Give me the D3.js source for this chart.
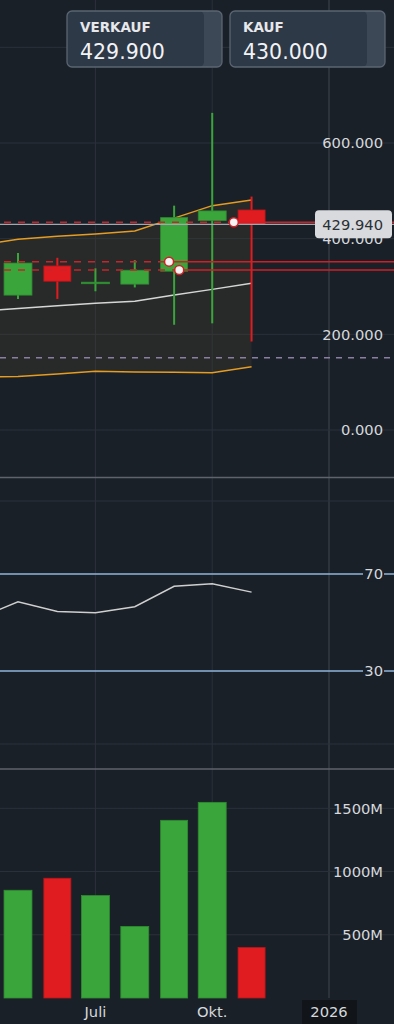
<!DOCTYPE html>
<html>
<head>
<meta charset="utf-8">
<script src="https://cdn.jsdelivr.net/npm/d3@7"></script>
<style>
html, body { margin: 0; padding: 0; background: #1a2028; overflow: hidden; }
svg { display: block; font-family: "DejaVu Sans", sans-serif; }
</style>
</head>
<body>
<div id="chart"></div>
<script>
var width = 394;
var height = 1024;

// monthly candles
var candleDates = ['2025-05-01', '2025-06-01', '2025-07-01', '2025-08-01', '2025-09-01', '2025-10-01', '2025-11-01'];
var opens = [282, 343, 307, 305, 332, 438, 460];
var highs = [370, 360, 338, 355, 469, 663, 488];
var lows = [274, 274, 290, 298, 220, 223, 185];
var closes = [349, 311, 309, 334, 444, 458, 429.94];
var volumes = [852, 947, 810, 566, 1405, 1547, 400];

// indicators (one point more on the left, off screen)
var lineDates = ['2025-04-01', '2025-05-01', '2025-06-01', '2025-07-01', '2025-08-01', '2025-09-01', '2025-10-01', '2025-11-01'];
var bbUpper = [386, 399, 405, 410, 416, 443, 469, 481];
var bbMiddle = [249, 254, 259.7, 265, 269, 282, 294, 306.7];
var bbLower = [111, 112, 117, 122.7, 121, 120.5, 119.8, 132];
var rsi = [52, 58.5, 54.5, 54, 56.5, 64.9, 65.9, 62.5];

// position lines
var orderPrices = [434.5, 352, 334.5];
var orderDates = ['2025-10-18', '2025-08-28', '2025-09-05'];
var alertPrice = 151;
var lastPrice = 429.94;

var quoteLabels = ['VERKAUF', 'KAUF'];
var quoteValues = ['429.900', '430.000'];

var priceTicks = [0, 200, 400, 600, 800];
var rsiGrid = [0, 100];
var rsiLevels = [70, 30];
var volumeTicks = [500, 1000, 1500];
var timeTicks = ['2025-07-01', '2025-10-01', '2026-01-01'];
var timeLabels = ['Juli', 'Okt.', '2026'];

var parse = d3.timeParse('%Y-%m-%d');
var x = d3.scaleTime().domain([parse('2025-05-01'), parse('2026-01-01')]).range([18, 329]);
var yPrice = d3.scaleLinear().domain([0, 600]).range([430, 143]);
var yRsi = d3.scaleLinear().domain([0, 100]).range([744, 501]);
var yVol = d3.scaleLinear().domain([0, 1500]).range([998, 808.3]);
var fmtPrice = d3.format('.3f');

var green = '#3aa53b';
var greenEdge = '#2e8c30';
var red = '#e01c20';
var redEdge = '#b3171b';
var gridColor = '#2b313a';

var candles = candleDates.map(function(d, i) {
    return {
        date: parse(d),
        open: opens[i],
        high: highs[i],
        low: lows[i],
        close: closes[i],
        volume: volumes[i]
    };
});

var lines = lineDates.map(function(d, i) {
    return { date: parse(d), upper: bbUpper[i], middle: bbMiddle[i], lower: bbLower[i], rsi: rsi[i] };
});

function bodyWidth(d) {
    var next = d3.timeMonth.offset(d.date, 1);
    return (x(next) - x(d.date)) * 0.71;
}

var svg = d3.select('#chart').append('svg')
    .attr('width', width)
    .attr('height', height);

svg.append('rect')
    .attr('width', width)
    .attr('height', height)
    .attr('fill', '#1a2028');

// grid
svg.append('g')
    .selectAll('line')
    .data(timeTicks)
    .join('line')
    .attr('x1', function(d) { return x(parse(d)); })
    .attr('x2', function(d) { return x(parse(d)); })
    .attr('y1', 0)
    .attr('y2', 998)
    .attr('stroke', function(d, i) { return i === timeTicks.length - 1 ? '#40464f' : gridColor; })
    .attr('stroke-width', 1);

var hGrid = svg.append('g');
hGrid.selectAll('line.p')
    .data(priceTicks)
    .join('line')
    .classed('p', true)
    .attr('x1', 0).attr('x2', width)
    .attr('y1', function(d) { return yPrice(d); })
    .attr('y2', function(d) { return yPrice(d); })
    .attr('stroke', gridColor);
hGrid.selectAll('line.r')
    .data(rsiGrid)
    .join('line')
    .classed('r', true)
    .attr('x1', 0).attr('x2', width)
    .attr('y1', function(d) { return yRsi(d); })
    .attr('y2', function(d) { return yRsi(d); })
    .attr('stroke', gridColor);
hGrid.selectAll('line.v')
    .data(volumeTicks)
    .join('line')
    .classed('v', true)
    .attr('x1', 0).attr('x2', width)
    .attr('y1', function(d) { return yVol(d); })
    .attr('y2', function(d) { return yVol(d); })
    .attr('stroke', gridColor);

// panel separators
svg.append('g')
    .selectAll('line')
    .data([477.5, 769])
    .join('line')
    .attr('x1', 0).attr('x2', width)
    .attr('y1', function(d) { return d; })
    .attr('y2', function(d) { return d; })
    .attr('stroke', '#5f636b')
    .attr('stroke-width', 1.5);

// bollinger band
var priceClip = svg.append('clipPath').attr('id', 'priceClip')
    .append('rect').attr('x', 0).attr('y', 0).attr('width', width).attr('height', 477);

var bb = svg.append('g').attr('clip-path', 'url(#priceClip)');

bb.append('path')
    .datum(lines)
    .attr('d', d3.area()
        .x(function(d) { return x(d.date); })
        .y0(function(d) { return yPrice(d.lower); })
        .y1(function(d) { return yPrice(d.upper); }))
    .attr('fill', 'rgba(72,66,50,0.3)');

['upper', 'lower'].forEach(function(key) {
    bb.append('path')
        .datum(lines)
        .attr('d', d3.line()
            .x(function(d) { return x(d.date); })
            .y(function(d) { return yPrice(d[key]); }))
        .attr('fill', 'none')
        .attr('stroke', '#e49c22')
        .attr('stroke-width', 1.5);
});

bb.append('path')
    .datum(lines)
    .attr('d', d3.line()
        .x(function(d) { return x(d.date); })
        .y(function(d) { return yPrice(d.middle); }))
    .attr('fill', 'none')
    .attr('stroke', '#d6d6d6')
    .attr('stroke-width', 1.5);

// candles
var candleG = svg.append('g');
candleG.selectAll('line')
    .data(candles)
    .join('line')
    .attr('x1', function(d) { return x(d.date); })
    .attr('x2', function(d) { return x(d.date); })
    .attr('y1', function(d) { return yPrice(d.high); })
    .attr('y2', function(d) { return yPrice(d.low); })
    .attr('stroke', function(d) { return d.close >= d.open ? green : red; })
    .attr('stroke-width', 2);

candleG.selectAll('rect')
    .data(candles)
    .join('rect')
    .attr('x', function(d) { return x(d.date) - bodyWidth(d) / 2; })
    .attr('width', function(d) { return bodyWidth(d); })
    .attr('y', function(d) { return yPrice(Math.max(d.open, d.close)); })
    .attr('height', function(d) { return Math.max(1.5, Math.abs(yPrice(d.open) - yPrice(d.close))); })
    .attr('fill', function(d) { return d.close >= d.open ? green : red; })
    .attr('stroke', function(d) { return d.close >= d.open ? greenEdge : redEdge; })
    .attr('stroke-width', 0.8);

// alert line
svg.append('line')
    .attr('x1', 0).attr('x2', width)
    .attr('y1', yPrice(alertPrice)).attr('y2', yPrice(alertPrice))
    .attr('stroke', '#8a7fa3')
    .attr('stroke-width', 1.3)
    .attr('stroke-dasharray', '6,6');

// last price line
svg.append('line')
    .attr('x1', 0).attr('x2', width)
    .attr('y1', yPrice(lastPrice)).attr('y2', yPrice(lastPrice))
    .attr('stroke', '#a3a8ae')
    .attr('stroke-width', 1.2);

// orders
var orders = orderPrices.map(function(p, i) { return { price: p, date: parse(orderDates[i]) }; });
var orderG = svg.append('g');
orderG.selectAll('line.dash')
    .data(orders)
    .join('line')
    .classed('dash', true)
    .attr('x1', 4)
    .attr('x2', function(d) { return x(d.date) - 4; })
    .attr('y1', function(d) { return yPrice(d.price); })
    .attr('y2', function(d) { return yPrice(d.price); })
    .attr('stroke', '#c8242b')
    .attr('stroke-width', 1.5)
    .attr('stroke-dasharray', '7,7');
orderG.selectAll('line.solid')
    .data(orders)
    .join('line')
    .classed('solid', true)
    .attr('x1', function(d) { return x(d.date); })
    .attr('x2', width)
    .attr('y1', function(d) { return yPrice(d.price); })
    .attr('y2', function(d) { return yPrice(d.price); })
    .attr('stroke', '#d11f27')
    .attr('stroke-width', 1.5);
orderG.selectAll('circle')
    .data(orders)
    .join('circle')
    .attr('cx', function(d) { return x(d.date); })
    .attr('cy', function(d) { return yPrice(d.price); })
    .attr('r', 4.5)
    .attr('fill', '#f4f4f4')
    .attr('stroke', '#d11f27')
    .attr('stroke-width', 1.5);

// price axis labels
svg.append('g')
    .selectAll('text')
    .data(priceTicks)
    .join('text')
    .attr('x', 383)
    .attr('y', function(d) { return yPrice(d); })
    .attr('dy', '0.36em')
    .attr('text-anchor', 'end')
    .attr('font-size', 14.7)
    .attr('fill', '#d5d8dc')
    .text(function(d) { return fmtPrice(d); });

// last price label
svg.append('rect')
    .attr('x', 315).attr('y', yPrice(lastPrice) - 14)
    .attr('width', 77).attr('height', 28)
    .attr('rx', 4)
    .attr('fill', '#d8dadd');
svg.append('text')
    .attr('x', 383)
    .attr('y', yPrice(lastPrice))
    .attr('dy', '0.36em')
    .attr('text-anchor', 'end')
    .attr('font-size', 14.7)
    .attr('fill', '#2b2f36')
    .text(fmtPrice(lastPrice));

// rsi
svg.append('g')
    .selectAll('line')
    .data(rsiLevels)
    .join('line')
    .attr('x1', 0).attr('x2', width)
    .attr('y1', function(d) { return yRsi(d); })
    .attr('y2', function(d) { return yRsi(d); })
    .attr('stroke', '#8fb5dc')
    .attr('stroke-width', 1.5);

svg.append('path')
    .datum(lines)
    .attr('d', d3.line()
        .x(function(d) { return x(d.date); })
        .y(function(d) { return yRsi(d.rsi); }))
    .attr('fill', 'none')
    .attr('stroke', '#cfcfcf')
    .attr('stroke-width', 1.5);

var rsiLabels = svg.append('g');
rsiLabels.selectAll('rect')
    .data(rsiLevels)
    .join('rect')
    .attr('x', 363).attr('width', 21)
    .attr('y', function(d) { return yRsi(d) - 8; })
    .attr('height', 16)
    .attr('fill', '#1a2028');
rsiLabels.selectAll('text')
    .data(rsiLevels)
    .join('text')
    .attr('x', 383)
    .attr('y', function(d) { return yRsi(d); })
    .attr('dy', '0.36em')
    .attr('text-anchor', 'end')
    .attr('font-size', 14.7)
    .attr('fill', '#d5d8dc')
    .text(function(d) { return d; });

// volume
svg.append('g')
    .selectAll('rect')
    .data(candles)
    .join('rect')
    .attr('x', function(d) { return x(d.date) - bodyWidth(d) / 2; })
    .attr('width', function(d) { return bodyWidth(d); })
    .attr('y', function(d) { return yVol(d.volume); })
    .attr('height', function(d) { return yVol(0) - yVol(d.volume); })
    .attr('fill', function(d) { return d.close >= d.open ? green : red; })
    .attr('stroke', function(d) { return d.close >= d.open ? greenEdge : redEdge; })
    .attr('stroke-width', 0.8);

svg.append('g')
    .selectAll('text')
    .data(volumeTicks)
    .join('text')
    .attr('x', 383)
    .attr('y', function(d) { return yVol(d); })
    .attr('dy', '0.36em')
    .attr('text-anchor', 'end')
    .attr('font-size', 14.7)
    .attr('fill', '#d5d8dc')
    .text(function(d) { return d + 'M'; });

// time axis
var timeG = svg.append('g');
timeG.append('rect')
    .attr('x', x(parse(timeTicks[2])) - 27)
    .attr('y', 1000)
    .attr('width', 55)
    .attr('height', 24)
    .attr('fill', '#111519');
timeG.selectAll('text')
    .data(timeTicks)
    .join('text')
    .attr('x', function(d) { return x(parse(d)); })
    .attr('y', 1017)
    .attr('text-anchor', 'middle')
    .attr('font-size', 14.7)
    .attr('fill', '#d5d8dc')
    .text(function(d, i) { return timeLabels[i]; });

// quote buttons
var boxX = [67, 230];
var quotes = svg.append('g')
    .selectAll('g')
    .data(quoteLabels)
    .join('g')
    .attr('transform', function(d, i) { return 'translate(' + boxX[i] + ',11)'; });

quotes.append('rect')
    .attr('width', 155).attr('height', 56).attr('rx', 5)
    .attr('fill', '#3c4856');
quotes.append('rect')
    .attr('width', 137).attr('height', 56).attr('rx', 5)
    .attr('fill', '#2e3947');
quotes.append('rect')
    .attr('x', 10).attr('width', 122).attr('height', 56)
    .attr('fill', '#2e3947');
quotes.append('rect')
    .attr('width', 155).attr('height', 56).attr('rx', 5)
    .attr('fill', 'none')
    .attr('stroke', '#5a6572')
    .attr('stroke-width', 1.3);
quotes.append('text')
    .attr('x', 13).attr('y', 21)
    .attr('font-size', 13.5)
    .attr('font-weight', 'bold')
    .attr('fill', '#e6e8eb')
    .text(function(d) { return d; });
quotes.append('text')
    .attr('x', 13).attr('y', 47.5)
    .attr('font-size', 20.5)
    .attr('fill', '#f2f3f5')
    .text(function(d, i) { return quoteValues[i]; });
</script>
</body>
</html>
